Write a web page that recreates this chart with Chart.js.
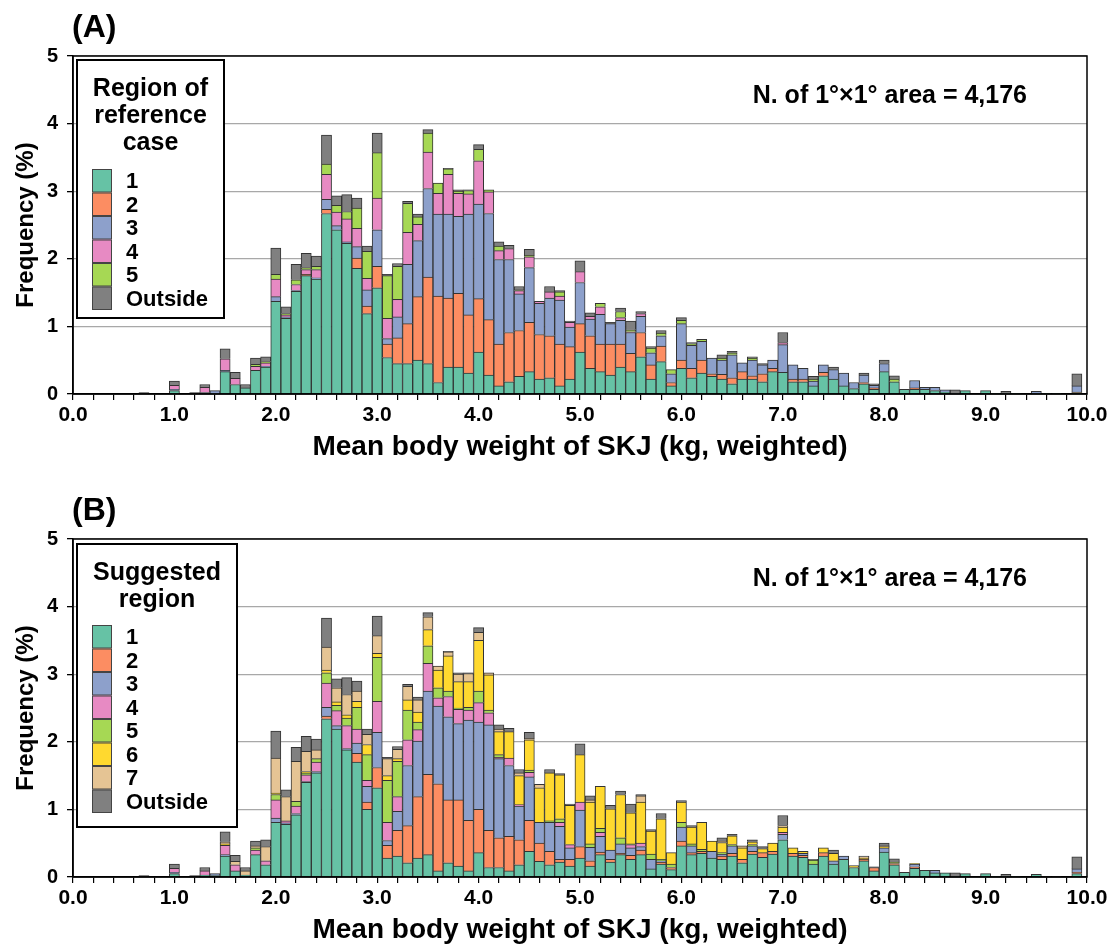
<!DOCTYPE html>
<html>
<head>
<meta charset="utf-8">
<script src="https://cdn.jsdelivr.net/npm/chart.js@4.4.1/dist/chart.umd.min.js"></script>
<style>
  html, body { margin: 0; padding: 0; background: #fff; overflow: hidden; width: 1118px; height: 952px; }
  .panel { position: absolute; left: 0; width: 1118px; height: 483px; }
</style>
</head>
<body>
<div class="panel" style="top:0"><canvas id="chartA" width="1118" height="483"></canvas></div>
<div class="panel" style="top:483px"><canvas id="chartB" width="1118" height="483"></canvas></div>
<script>
// bin centres (kg)
const bins = [
  0.0, 0.1, 0.2, 0.3, 0.4, 0.5, 0.6, 0.7, 0.8, 0.9,
  1.0, 1.1, 1.2, 1.3, 1.4, 1.5, 1.6, 1.7, 1.8, 1.9,
  2.0, 2.1, 2.2, 2.3, 2.4, 2.5, 2.6, 2.7, 2.8, 2.9,
  3.0, 3.1, 3.2, 3.3, 3.4, 3.5, 3.6, 3.7, 3.8, 3.9,
  4.0, 4.1, 4.2, 4.3, 4.4, 4.5, 4.6, 4.7, 4.8, 4.9,
  5.0, 5.1, 5.2, 5.3, 5.4, 5.5, 5.6, 5.7, 5.8, 5.9,
  6.0, 6.1, 6.2, 6.3, 6.4, 6.5, 6.6, 6.7, 6.8, 6.9,
  7.0, 7.1, 7.2, 7.3, 7.4, 7.5, 7.6, 7.7, 7.8, 7.9,
  8.0, 8.1, 8.2, 8.3, 8.4, 8.5, 8.6, 8.7, 8.8, 8.9,
  9.0, 9.1, 9.2, 9.3, 9.4, 9.5, 9.6, 9.7, 9.8, 9.9
];

// (A) region of reference case, frequency %
const refR1 = [
  0,0,0,0,0,0,0,0,0,0,
  .05,0,0,.02,.01,.33,.14,.09,.35,.40,
  1.37,1.12,1.52,1.75,1.70,2.67,2.43,2.23,1.86,1.19,
  1.57,.54,.45,.45,.50,.45,.17,.40,.40,.31,
  .62,.28,.12,.18,.26,.33,.22,.24,.12,.22,
  .62,.38,.33,.28,.40,.33,.55,.22,.48,.12,
  .38,.24,.31,.26,.22,.15,.22,.22,.18,.33,
  .32,.18,.18,.12,.27,.22,.12,.08,.15,.07,
  .33,.18,.07,.07,.07,.05,.03,.01,.05,0,
  .05,.01,.01,.01,0,.01,.01,.01,0,.02
];
const refR2 = [
  0,0,0,0,0,0,0,0,0,0,
  0,0,0,0,0,0,0,0,0,0,
  0,0,0,.02,0,.06,0,0,.15,.11,
  .32,.20,.38,.59,.94,1.28,1.28,1.02,1.09,.86,
  .79,.82,.62,.73,.68,.73,.66,.62,.62,.48,
  .42,.48,.41,.46,.34,.27,.36,.21,.23,.05,
  .12,.14,.19,.04,.07,.09,.11,.05,.12,.05,
  0,.04,.04,0,.05,0,0,0,.02,.02,
  0,0,0,.02,0,0,0,0,0,0,
  0,0,0,0,0,0,0,0,0,.01
];
const refR3 = [
  0,0,0,0,0,0,0,0,0,0,
  .02,0,0,0,.04,.02,0,0,0,.01,
  .07,.02,.01,0,.02,.15,.06,.02,.17,.24,
  .54,.08,.31,.88,.83,1.31,1.21,1.24,1.14,1.49,
  1.40,1.57,1.25,1.08,.54,.81,.46,.56,.65,.29,
  .61,.25,.44,.30,.35,.31,.24,.18,.15,.13,
  .54,.34,.28,.23,.21,.34,.13,.23,.13,.12,
  .41,.21,.16,.07,.11,.14,.19,.09,.11,.04,
  .12,0,0,.11,.03,.05,.03,0,0,0,
  0,0,0,0,0,.03,0,0,0,.09
];
const refR4 = [
  0,0,0,0,0,0,0,0,0,0,
  .06,0,0,.08,0,.17,.09,0,.06,.05,
  .26,.03,.09,.07,.12,.37,.20,.34,.27,.17,
  .47,.30,.26,.47,.24,.54,.31,.59,.34,.30,
  .64,.32,.13,.16,.05,.16,.03,.09,.06,.07,
  .16,.04,.11,0,.04,.01,.04,0,0,0,
  0,0,0,0,0,0,0,0,0,0,
  .03,0,0,0,0,0,0,0,0,0,
  0,0,0,0,0,0,0,0,0,0,
  0,0,0,0,0,0,0,0,0,0
];
const refR5 = [
  0,0,0,0,0,0,0,0,0,0,
  0,0,0,0,0,0,0,0,.03,.02,
  .07,.02,.07,.03,.05,.15,.10,.11,.30,.40,
  .67,.63,.49,.43,.11,.28,.15,.08,.03,.05,
  .17,.03,.07,0,.01,.02,0,0,.06,0,
  0,0,.05,0,.09,.03,0,.07,.04,.06,
  .05,.02,.03,0,.03,.03,0,.03,0,0,
  0,0,0,.03,0,0,0,0,0,0,
  0,.04,0,0,0,0,0,0,0,0,
  0,0,0,0,0,0,0,0,0,0
];
const refOut = [
  0,0,0,0,0,0,0,.02,0,0,
  .06,0,.02,.04,0,.15,.09,.05,.09,.07,
  .39,.10,.23,.21,.15,.43,.14,.25,.15,.08,
  .29,.02,.04,.03,.04,.05,0,.01,.02,.01,
  .07,0,.06,.05,.05,.09,0,.08,.02,.02,
  .16,.05,0,.02,.05,.13,.03,.02,.04,0,
  .04,.02,0,0,.05,.02,0,.02,.02,0,
  .15,0,0,.04,0,.04,0,0,.03,.02,
  .05,.05,0,0,0,0,0,.05,0,0,
  0,0,.03,0,0,0,0,0,0,.18
];

// (B) suggested region, frequency %
const sugR1 = [
  0,0,0,0,0,0,0,0,0,0,
  .05,0,0,.03,.02,.31,.09,.03,.33,.18,
  .81,.78,.92,1.40,1.54,2.34,2.19,1.88,1.70,1.00,
  1.32,.28,.31,.21,.28,.33,.09,.21,.16,.09,
  .36,.14,.14,.09,.18,.38,.23,.18,.22,.16,
  .28,.16,.33,.22,.33,.26,.33,.12,.19,.11,
  .46,.33,.35,.28,.26,.31,.21,.34,.29,.34,
  .55,.31,.29,.19,.31,.19,.26,.14,.24,.09,
  .37,.18,.07,.13,.10,.06,.06,.01,.05,0,
  .05,.01,.01,.01,0,.04,0,0,0,.05
];
const sugR2 = [
  0,0,0,0,0,0,0,0,0,0,
  0,0,0,0,0,0,0,0,0,0,
  0,0,0,0,0,.04,0,0,.13,.11,
  .30,.19,.38,.55,.91,1.19,1.29,.93,.98,.75,
  .64,.55,.44,.51,.37,.46,.27,.20,.04,.10,
  .17,.08,.04,.04,.02,.06,.07,0,.03,.03,
  .07,.03,.03,0,.05,.04,.05,.04,.07,.04,
  0,.04,.03,0,.05,0,0,0,.02,.05,
  0,.02,0,.02,0,0,0,0,0,0,
  0,0,0,0,0,0,0,0,0,.02
];
const sugR3 = [
  0,0,0,0,0,0,0,0,0,0,
  .02,0,0,0,.03,.02,0,0,0,0,
  .06,.02,.02,.01,.02,.13,.05,.02,.15,.23,
  .52,.07,.28,.89,.82,1.23,1.15,1.23,1.13,1.48,
  1.29,1.56,1.17,1.05,.50,.64,.31,.43,.49,.17,
  .54,.20,.23,.14,.14,.11,.05,.14,.02,0,
  .21,.10,0,.10,.03,.11,0,.08,0,0,
  .08,0,.03,0,0,.05,.05,0,0,0,
  .06,0,0,.04,0,.04,0,0,0,0,
  0,0,0,0,0,0,0,0,0,.05
];
const sugR4 = [
  0,0,0,0,0,0,0,0,0,0,
  .06,0,0,.06,0,.14,.09,0,.07,.06,
  .27,.03,.11,.10,.14,.36,.22,.34,.21,.09,
  .46,.27,.22,.38,.17,.41,.12,.30,.21,.15,
  .29,.18,.02,.11,.02,.07,0,0,.06,.05,
  .12,0,.06,0,0,.05,.05,0,0,0,
  0,0,0,0,0,0,0,0,0,0,
  .03,0,0,0,0,0,0,0,0,0,
  0,0,0,0,0,0,0,0,0,0,
  0,0,0,0,0,0,0,0,0,0
];
const sugR5 = [
  0,0,0,0,0,0,0,0,0,0,
  0,0,0,0,0,0,0,0,.03,0,
  .08,0,.07,.03,.05,.15,.08,.11,.32,.38,
  .65,.62,.52,.44,.11,.26,.15,.08,.02,.04,
  .17,.04,.04,0,0,.03,0,.02,.05,0,
  0,.05,.06,0,.09,.01,0,.08,.02,.05,
  .07,.03,.03,0,.02,.02,0,.02,0,0,
  0,0,0,.06,0,0,0,0,0,0,
  0,.02,0,0,0,0,0,0,0,0,
  0,0,0,0,0,0,0,0,0,0
];
const sugR6 = [
  0,0,0,0,0,0,0,0,0,0,
  0,0,0,0,0,.02,0,0,0,0,
  .02,0,0,.02,0,.04,.05,.05,.09,.15,
  .06,.07,.04,.15,.15,.24,.26,.52,.39,.38,
  .75,.52,.34,.39,.43,.45,.51,.71,.65,.58,
  .70,.62,.62,.61,.64,.46,.61,.34,.60,.17,
  .30,.25,.40,.15,.15,.13,.17,.04,.06,.12,
  .08,.08,.03,0,.07,.11,0,.03,.02,0,
  .02,0,0,.01,0,0,0,0,0,0,
  0,0,0,0,0,0,0,0,0,0
];
const sugR7 = [
  0,0,0,0,0,0,0,0,0,0,
  0,0,0,0,0,.03,.05,.06,.03,.21,
  .52,.36,.59,.30,.13,.34,.21,.30,.15,.15,
  .26,.25,.14,.20,.18,.19,.06,.06,.11,.12,
  .12,.03,.04,0,.04,.02,.05,0,0,0,
  0,.03,0,0,0,0,.09,0,0,0,
  0,0,0,0,.02,0,.03,0,0,0,
  .02,0,0,0,0,0,0,0,.02,0,
  .01,0,0,0,0,0,0,0,0,0,
  0,0,0,0,0,0,0,0,0,0
];
const sugOut = [
  0,0,0,0,0,0,0,.02,0,0,
  .06,0,.02,.05,0,.15,.09,.05,.07,.10,
  .40,.10,.21,.22,.16,.43,.13,.25,.15,.08,
  .29,.02,.04,.03,.04,.06,0,.01,.02,.01,
  .07,0,.06,.05,.05,.09,0,.05,.02,.02,
  .16,.06,0,.05,.05,.13,.02,.02,.08,0,
  .02,.02,0,0,.05,.02,0,.03,.03,0,
  .15,0,0,.01,0,.05,0,0,.01,.01,
  .04,.05,0,0,0,0,0,.05,0,0,
  0,0,.03,0,0,0,.01,.01,0,.18
];

const FONT = '"Liberation Sans", Arial, Helvetica, sans-serif';
const COLORS = {
  r1: '#66c2a5', r2: '#fc8d62', r3: '#8da0cb', r4: '#e78ac3',
  r5: '#a6d854', r6: '#ffd92f', r7: '#e5c494', out: '#808080'
};

Chart.defaults.font.family = FONT;
Chart.defaults.font.weight = 'bold';
Chart.defaults.color = '#000';

// frame, panel tag, note and the boxed legend
const panelDeco = {
  id: 'panelDeco',
  afterDraw(chart, args, opts) {
    const { ctx, chartArea: a } = chart;
    ctx.save();
    ctx.strokeStyle = '#000';
    ctx.lineWidth = 1.5;
    ctx.strokeRect(a.left, a.top, a.right - a.left, a.bottom - a.top);

    ctx.fillStyle = '#000';
    ctx.textBaseline = 'middle';
    ctx.textAlign = 'left';
    ctx.font = 'bold 32px ' + FONT;
    ctx.fillText(opts.tag, 72, 28);

    ctx.textAlign = 'right';
    ctx.font = 'bold 25px ' + FONT;
    ctx.fillText(opts.note, 1027, 96);

    const b = opts.box;
    ctx.fillStyle = '#fff';
    ctx.fillRect(b.x, b.y, b.w, b.h);
    ctx.lineWidth = 2;
    ctx.strokeStyle = '#000';
    ctx.strokeRect(b.x, b.y, b.w, b.h);

    ctx.fillStyle = '#000';
    ctx.textAlign = 'center';
    ctx.font = 'bold 25px ' + FONT;
    opts.title.forEach((t, i) => ctx.fillText(t, b.x + b.w / 2, b.titleY + i * 27));

    ctx.textAlign = 'left';
    ctx.font = 'bold 22px ' + FONT;
    chart.data.datasets.forEach((ds, i) => {
      const y = b.itemY + i * 23.5;
      ctx.fillStyle = ds.backgroundColor;
      ctx.fillRect(92, y, 20, 23.5);
      ctx.strokeStyle = '#444';
      ctx.lineWidth = 1;
      ctx.strokeRect(92.5, y + 0.5, 19, 22.5);
      ctx.fillStyle = '#000';
      ctx.fillText(ds.label, 126, y + 13);
    });
    ctx.restore();
  }
};

function makeChart(id, series, deco) {
  return new Chart(document.getElementById(id), {
    type: 'bar',
    data: {
      labels: bins,
      datasets: series.map(s => ({
        label: s.label,
        data: s.data.map(v => (v > 0 ? v : null)),
        backgroundColor: s.color,
        borderColor: '#333',
        borderWidth: 1,
        barPercentage: 1,
        categoryPercentage: 1
      }))
    },
    options: {
      responsive: false,
      animation: false,
      layout: { padding: { top: 56, right: 31, left: 0, bottom: 0 } },
      plugins: {
        legend: { display: false },
        tooltip: { enabled: false },
        panelDeco: deco
      },
      scales: {
        x: {
          type: 'linear',
          stacked: true,
          offset: false,
          min: 0,
          max: 10,
          afterFit: s => { s.height = 89; },
          border: { display: true, color: '#000', width: 1.5 },
          grid: { offset: false, drawOnChartArea: false, tickColor: '#000', tickLength: 6, lineWidth: 1.2 },
          ticks: {
            stepSize: 0.2,
            autoSkip: false,
            maxRotation: 0,
            padding: 3,
            font: { size: 21, weight: 'bold' },
            callback: v => (Math.abs(v - Math.round(v)) < 1e-6 ? Number(v).toFixed(1) : '')
          },
          title: {
            display: true,
            text: 'Mean body weight of SKJ (kg, weighted)',
            font: { size: 28, weight: 'bold' },
            padding: { top: 0, bottom: 19 }
          }
        },
        y: {
          stacked: true,
          min: 0,
          max: 5,
          afterFit: s => { s.width = 73; },
          border: { display: true, color: '#000', width: 1.5 },
          grid: { color: '#a8a8a8', lineWidth: 1.3, tickColor: '#000', tickLength: 6 },
          ticks: { stepSize: 1, padding: 9, font: { size: 20, weight: 'bold' } },
          title: {
            display: true,
            text: 'Frequency (%)',
            font: { size: 24, weight: 'bold' },
            padding: { top: 12, bottom: 0 }
          }
        }
      }
    },
    plugins: [panelDeco]
  });
}

makeChart('chartA', [
  { label: '1', data: refR1, color: COLORS.r1 },
  { label: '2', data: refR2, color: COLORS.r2 },
  { label: '3', data: refR3, color: COLORS.r3 },
  { label: '4', data: refR4, color: COLORS.r4 },
  { label: '5', data: refR5, color: COLORS.r5 },
  { label: 'Outside', data: refOut, color: COLORS.out }
], {
  tag: '(A)',
  note: 'N. of 1°×1° area = 4,176',
  title: ['Region of', 'reference', 'case'],
  box: { x: 77, y: 60, w: 147, h: 258, titleY: 89, itemY: 169 }
});

makeChart('chartB', [
  { label: '1', data: sugR1, color: COLORS.r1 },
  { label: '2', data: sugR2, color: COLORS.r2 },
  { label: '3', data: sugR3, color: COLORS.r3 },
  { label: '4', data: sugR4, color: COLORS.r4 },
  { label: '5', data: sugR5, color: COLORS.r5 },
  { label: '6', data: sugR6, color: COLORS.r6 },
  { label: '7', data: sugR7, color: COLORS.r7 },
  { label: 'Outside', data: sugOut, color: COLORS.out }
], {
  tag: '(B)',
  note: 'N. of 1°×1° area = 4,176',
  title: ['Suggested', 'region'],
  box: { x: 77, y: 61, w: 160, h: 283, titleY: 90, itemY: 142 }
});
</script>
</body>
</html>
